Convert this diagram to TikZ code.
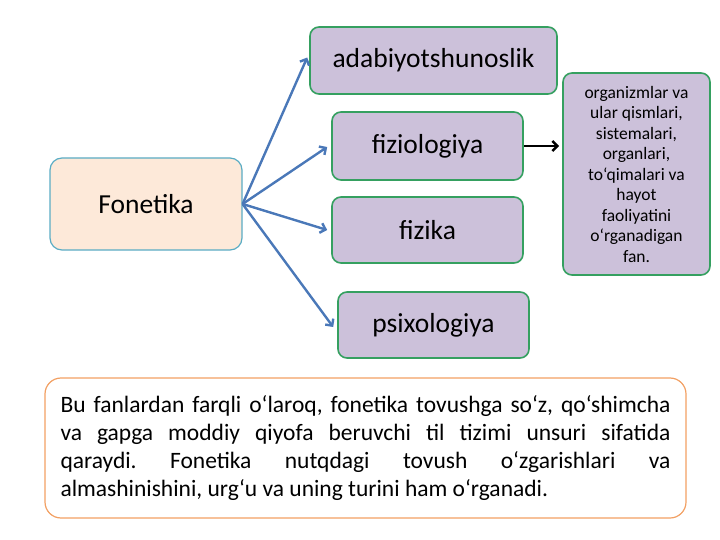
\documentclass[tikz,border=0pt]{standalone}
\usepackage{fontspec}
\setmainfont{Carlito}
\usetikzlibrary{arrows.meta}
\definecolor{lav}{HTML}{CCC1DA}
\definecolor{boxgreen}{HTML}{35A060}
\definecolor{peach}{HTML}{FDE9D9}
\definecolor{teal}{HTML}{5AACC4}
\definecolor{arrblue}{HTML}{4A78B8}
\definecolor{noteorange}{HTML}{F2A063}

\begin{document}
\begin{tikzpicture}[x=1pt,y=-1pt,>={Straight Barb[length=5pt,width=10pt]},
    box/.style={draw=boxgreen,line width=1.6pt,fill=lav,rounded corners=9pt,font=\fontsize{27.5}{32}\selectfont},
    link/.style={->,arrblue,line width=2.4pt}]
    \useasboundingbox (0,0) rectangle (720,540);
    \node[box,minimum width=247pt,minimum height=67pt] (adab) at (433.5,60.5) {adabiyotshunoslik};
    \node[box,minimum width=191pt,minimum height=68pt] (fiziol) at (427.5,146) {fiziologiya};
    \node[box,minimum width=191pt,minimum height=66pt] (fizika) at (427.5,230) {fizika};
    \node[box,minimum width=191pt,minimum height=66pt] (psix) at (433.5,325) {psixologiya};
    \node[box,minimum width=147pt,minimum height=202pt,text width=140pt,align=flush center,inner sep=0pt,
        font=\fontsize{17.5}{20.5}\selectfont] (def) at (636.5,174)
        {organizmlar va\\ ular qismlari,\\ sistemalari,\\ organlari,\\ to‘qimalari va\\ hayot\\ faoliyatini\\ o‘rganadigan\\ fan.};
    \node[draw=teal,line width=1.2pt,fill=peach,rounded corners=12pt,minimum width=192pt,minimum height=92pt,
        font=\fontsize{27.5}{32}\selectfont] (fon) at (146,204) {Fonetika};
    \node[draw=noteorange,line width=1.2pt,rounded corners=16pt,minimum width=641pt,minimum height=140pt,
        text width=610pt,align=justify,font=\fontsize{23.5}{28.3}\selectfont\frenchspacing] (note) at (365.5,448)
        {Bu fanlardan farqli o‘laroq, fonetika tovushga so‘z, qo‘shimcha\linebreak
         va gapga moddiy qiyofa beruvchi til tizimi unsuri sifatida\linebreak
         qaraydi. Fonetika nutqdagi tovush o‘zgarishlari va\linebreak
         almashinishini, urg‘u va uning turini ham o‘rganadi.};
    % arrows out of Fonetika
    \draw[link] (fon.east) -- ([xshift=-2pt,yshift=3pt]adab.west);
    \draw[link] (fon.east) -- ([xshift=-4pt,yshift=-1pt]fiziol.west);
    \draw[link] (fon.east) -- ([xshift=-4pt]fizika.west);
    \draw[link] (fon.east) -- ([xshift=-4pt,yshift=-2pt]psix.west);
    \draw[->,black,line width=2.6pt] (fiziol.east) -- ([xshift=-3pt]def.west |- fiziol.east);
\end{tikzpicture}
\end{document}
